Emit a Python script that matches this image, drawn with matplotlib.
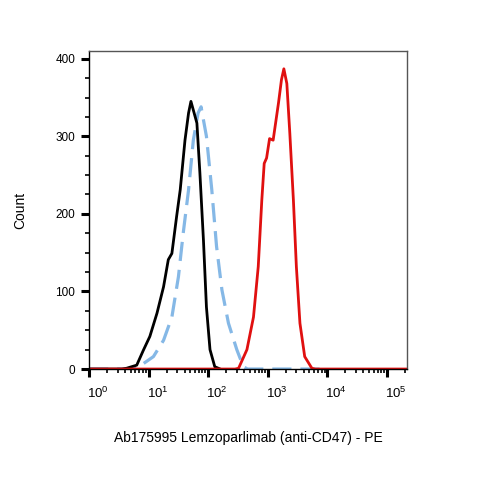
import numpy as np
import matplotlib
matplotlib.use("Agg")
import matplotlib.pyplot as plt
from matplotlib.ticker import LogLocator, NullFormatter
from matplotlib.transforms import ScaledTranslation

plt.rcParams['font.family'] = ['Liberation Sans', 'DejaVu Sans']
plt.rcParams['mathtext.fontset'] = 'custom'
plt.rcParams['mathtext.rm'] = 'Liberation Sans'

# log10 of PE intensity and counts
iso_log = [0.0, 0.70, 0.80, 1.08, 1.25, 1.39, 1.50, 1.58, 1.67, 1.75, 1.83, 1.88,
           1.97, 2.06, 2.14, 2.23, 2.34, 2.48, 2.59, 2.66, 3.9]
iso_cnt = [0, 0, 1, 16, 37, 67, 119, 175, 231, 295, 330, 338,
           300, 231, 158, 102, 59, 25, 3, 0, 0]

neg_log = [0.0, 0.55, 0.63, 0.80, 0.91, 1.02, 1.14, 1.25, 1.33, 1.39, 1.47, 1.53,
           1.61, 1.67, 1.71, 1.81, 1.86, 1.92, 1.97, 2.03, 2.11, 2.20]
neg_cnt = [0, 0, 1, 5, 24, 42, 72, 106, 141, 149, 197, 231,
           295, 330, 345, 317, 253, 166, 80, 25, 3, 0]

ab_log = [0.0, 2.45, 2.51, 2.65, 2.76, 2.84, 2.90, 2.94, 2.98, 3.03, 3.09, 3.18,
          3.23, 3.27, 3.32, 3.37, 3.43, 3.48, 3.54, 3.62, 3.74, 3.80, 5.34]
ab_cnt = [0, 0, 1, 25, 67, 132, 218, 265, 272, 297, 295, 343,
          373, 387, 368, 304, 218, 132, 59, 16, 1, 0, 0]

decades = [0, 1, 2, 3, 4, 5]

fig = plt.figure(figsize=(4.79, 4.79), dpi=100)
ax = fig.add_axes([0.186, 0.2296, 0.664, 0.664])

ax.plot(10 ** np.array(iso_log), iso_cnt, color='#85b8e6', lw=2.3,
        dashes=(6, 2.8), solid_joinstyle='round')
ax.plot(10 ** np.array(neg_log), neg_cnt, color='black', lw=2.0,
        solid_joinstyle='round')
ax.plot(10 ** np.array(ab_log), ab_cnt, color='#e01010', lw=2.0,
        solid_joinstyle='round')

ax.set_xscale('log')
ax.set_xlim(1, 10 ** 5.34)
ax.set_ylim(0, 410)

ax.set_yticks([0, 100, 200, 300, 400])
ax.set_yticks(np.arange(25, 400, 25), minor=True)
ax.set_xticks([10 ** d for d in decades])
ax.set_xticklabels([r'$\mathregular{10^{%d}}$' % d for d in decades], fontsize=9.5)
ax.xaxis.set_minor_locator(LogLocator(base=10, subs=np.arange(2, 10), numticks=10))
ax.xaxis.set_minor_formatter(NullFormatter())

ax.tick_params(axis='both', which='major', direction='out', length=6, width=2.2,
               color='black')
ax.tick_params(axis='y', which='major', labelsize=8.5, pad=4)
ax.tick_params(axis='both', which='minor', direction='out', length=3, width=1.2,
               color='black')
ax.tick_params(axis='x', which='major', pad=6)

# tick labels sit a bit to the right of their ticks in the original
for lab in ax.get_xticklabels():
    lab.set_transform(lab.get_transform() + ScaledTranslation(0.09, 0, fig.dpi_scale_trans))

for side in ['top', 'right']:
    ax.spines[side].set_color('#555555')
    ax.spines[side].set_linewidth(1.0)
for side in ['left', 'bottom']:
    ax.spines[side].set_color('black')
    ax.spines[side].set_linewidth(1.0)

ax.set_ylabel('Count', fontsize=10, labelpad=20)
ax.set_xlabel('Ab175995 Lemzoparlimab (anti-CD47) - PE', fontsize=10, labelpad=22)

fig.savefig('out.png', dpi=100)
